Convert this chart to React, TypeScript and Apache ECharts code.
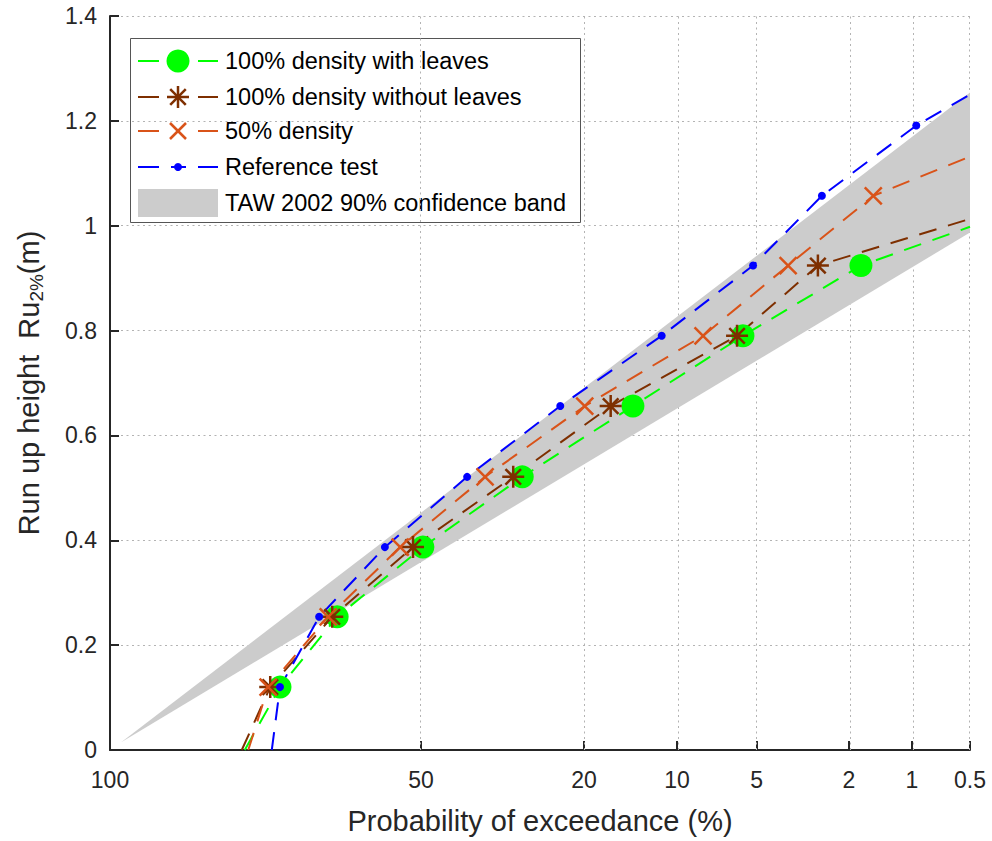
import React, { useEffect, useRef } from "react";
import * as echarts from "echarts";

// ---------- data ----------
const tickProbs = [100, 50, 20, 10, 5, 2, 1, 0.5];
const tickLabels = ["100", "50", "20", "10", "5", "2", "1", "0.5"];
const gridProbs = [50, 20, 10, 5, 2, 1, 0.5];
const runupLevels = [0.12, 0.254, 0.387, 0.521, 0.656, 0.79, 0.924, 1.057, 1.191];

// exceedance probability (%) of each run-up level
const withLeavesP = [81.3, 69.1, 49.6, 29.6, 14.1, 5.67, 1.76];
const withoutLeavesP = [83.2, 70.2, 51.8, 31.2, 16.6, 5.98, 2.76];
const halfDensityP = [83.6, 71.1, 54.7, 36.5, 19.9, 8.05, 3.71, 1.54];
const referenceP = [81.3, 73.1, 58.2, 40.1, 23.4, 11.3, 5.17, 2.65, 0.95];

// line continuations [P%, Ru] before first and after last marker
const withLeavesEnds = [[87.8, 0], [0.5, 0.998]];
const withoutLeavesEnds = [[88.3, 0], [0.5, 1.013]];
const halfDensityEnds = [[87.2, 0], [0.5, 1.132]];
const referenceEnds = [[82.9, 0], [0.5, 1.25]];

// TAW 2002 90% confidence band
const bandP = [99.91, 0.5];
const bandLow = [0.015, 0.987];
const bandHigh = [0.015, 1.254];

const legendNames = [
  "100% density with leaves",
  "100% density without leaves",
  "50% density",
  "Reference test",
  "TAW 2002 90% confidence band",
];

// ---------- helpers ----------
const tOf = (p: number) => Math.sqrt(Math.max(0, -Math.log(p / 100)));

const FONT = "Liberation Sans, Arial, sans-serif";
const GREEN = "#00ff00";
const BROWN = "#7e2f00";
const ORANGE = "#d95319";
const BLUE = "#0000ff";
const GRAY = "#cccccc";
const INK = "#262626";

const STAR = "path://M0,10L20,10M10,0L10,20M2.93,2.93L17.07,17.07M17.07,2.93L2.93,17.07";
const CROSS = "path://M0,0L20,20M20,0L0,20";

function buildData(ps: number[], ends: number[][]) {
  const pts: any[] = [];
  pts.push({ value: [tOf(ends[0][0]), ends[0][1]], symbol: "none" });
  ps.forEach((p, i) => pts.push({ value: [tOf(p), runupLevels[i]] }));
  pts.push({ value: [tOf(ends[1][0]), ends[1][1]], symbol: "none" });
  return pts;
}

const dash = [18, 12];

export default function App() {
  const ref = useRef<HTMLDivElement>(null);
  useEffect(() => {
    document.body.style.margin = "0";
    const chart = echarts.init(ref.current!, null, { renderer: "svg" });
    const tMax = tOf(0.5);
    const tickTs = tickProbs.map(tOf);

    const lineSeries = (name: string, data: any[], color: string, symbol: string, size: number, extra: any = {}) => ({
      name,
      type: "line",
      data,
      z: 3,
      symbol,
      symbolSize: size,
      lineStyle: { color, width: 2, type: dash },
      itemStyle: { color, borderColor: color, borderWidth: 2, ...extra },
      clip: true,
    });

    // legend (drawn as graphics)
    const rowY = [61, 97, 131, 167, 203];
    const lx1 = 138, lx2 = 159, lx3 = 198, lx4 = 218, mx = 178;
    const seg = (y: number, c: string) => [
      { type: "line", shape: { x1: lx1, y1: y, x2: lx2, y2: y }, style: { stroke: c, lineWidth: 2 } },
      { type: "line", shape: { x1: lx3, y1: y, x2: lx4, y2: y }, style: { stroke: c, lineWidth: 2 } },
    ];
    const legendEls: any[] = [
      { type: "rect", shape: { x: 130.5, y: 38.5, width: 450, height: 184 }, style: { fill: "#fff", stroke: "#555", lineWidth: 1 } },
      ...seg(rowY[0], GREEN),
      { type: "circle", shape: { cx: mx, cy: rowY[0], r: 11.5 }, style: { fill: GREEN } },
      ...seg(rowY[1], BROWN),
      ...[0, 45, 90, 135].map((a) => {
        const r = (a * Math.PI) / 180;
        return { type: "line", shape: { x1: mx - 11 * Math.cos(r), y1: rowY[1] - 11 * Math.sin(r), x2: mx + 11 * Math.cos(r), y2: rowY[1] + 11 * Math.sin(r) }, style: { stroke: BROWN, lineWidth: 2.5 } };
      }),
      ...seg(rowY[2], ORANGE),
      { type: "line", shape: { x1: mx - 8, y1: rowY[2] - 8, x2: mx + 8, y2: rowY[2] + 8 }, style: { stroke: ORANGE, lineWidth: 2.5 } },
      { type: "line", shape: { x1: mx + 8, y1: rowY[2] - 8, x2: mx - 8, y2: rowY[2] + 8 }, style: { stroke: ORANGE, lineWidth: 2.5 } },
      ...seg(rowY[3], BLUE),
      { type: "line", shape: { x1: 171, y1: rowY[3], x2: 186, y2: rowY[3] }, style: { stroke: BLUE, lineWidth: 2 } },
      { type: "circle", shape: { cx: mx, cy: rowY[3], r: 4 }, style: { fill: BLUE } },
      { type: "rect", shape: { x: 138, y: 189, width: 80, height: 28 }, style: { fill: GRAY } },
      ...legendNames.map((n, i) => ({
        type: "text",
        x: 225,
        y: rowY[i],
        style: { text: n, fill: "#000", font: `23.5px ${FONT}`, verticalAlign: "middle", align: "left" },
      })),
    ];

    const option: any = {
      animation: false,
      backgroundColor: "#fff",
      grid: { left: 110, right: 22, top: 16, bottom: 91, containLabel: false },
      xAxis: {
        type: "value",
        min: 0,
        max: tMax,
        name: "Probability of exceedance (%)",
        nameLocation: "middle",
        nameGap: 56,
        nameTextStyle: { fontFamily: FONT, fontSize: 29, color: INK },
        axisLine: { show: true, lineStyle: { color: INK, width: 2 } },
        axisTick: { show: true, inside: true, length: 9, customValues: tickTs, lineStyle: { color: INK, width: 2 } },
        axisLabel: {
          customValues: tickTs,
          margin: 18,
          fontFamily: FONT,
          fontSize: 23,
          color: INK,
          formatter: (v: number) => {
            let best = 0;
            tickTs.forEach((t, i) => {
              if (Math.abs(t - v) < Math.abs(tickTs[best] - v)) best = i;
            });
            return tickLabels[best];
          },
        },
        splitLine: { show: false },
      },
      yAxis: {
        type: "value",
        min: 0,
        max: 1.4,
        interval: 0.2,
        name: "{n|Run up height  Ru}{s|2%}{n|(m)}",
        nameLocation: "middle",
        nameGap: 64,
        nameTextStyle: {
          color: INK,
          rich: {
            n: { fontFamily: FONT, fontSize: 29, color: INK, lineHeight: 34, verticalAlign: "middle" },
            s: { fontFamily: FONT, fontSize: 19, color: INK, lineHeight: 19, verticalAlign: "bottom" },
          },
        },
        axisLine: { show: true, lineStyle: { color: INK, width: 2 } },
        axisTick: { show: true, inside: true, length: 9, lineStyle: { color: INK, width: 2 } },
        axisLabel: { margin: 13, fontFamily: FONT, fontSize: 23, color: INK },
        splitLine: { show: true, lineStyle: { color: "#b3b3b3", width: 1, type: [2, 3.5] } },
      },
      graphic: [{ type: "group", z: 100, children: legendEls }],
      series: [
        {
          name: "grid",
          type: "line",
          data: [],
          z: 1,
          markLine: {
            silent: true,
            z: 1,
            symbol: ["none", "none"],
            label: { show: false },
            lineStyle: { color: "#b3b3b3", width: 1, type: [2, 3.5] },
            data: gridProbs.map((p) => ({ xAxis: tOf(p) })),
          },
        },
        {
          name: legendNames[4],
          type: "custom",
          z: 2,
          data: bandP.map((p, i) => [tOf(p), bandLow[i], bandHigh[i]]),
          renderItem: (params: any, api: any) => {
            if (params.dataIndex !== 0) return null;
            const up = bandP.map((p, i) => api.coord([tOf(p), bandHigh[i]]));
            const lo = bandP.map((p, i) => api.coord([tOf(p), bandLow[i]])).reverse();
            return { type: "polygon", shape: { points: [...up, ...lo] }, style: { fill: GRAY }, silent: true };
          },
        },
        lineSeries(legendNames[0], buildData(withLeavesP, withLeavesEnds), GREEN, "circle", 23, { borderWidth: 0 }),
        lineSeries(legendNames[1], buildData(withoutLeavesP, withoutLeavesEnds), BROWN, STAR, 22, { borderWidth: 2.5 }),
        lineSeries(legendNames[2], buildData(halfDensityP, halfDensityEnds), ORANGE, CROSS, 17, { borderWidth: 2.5 }),
        lineSeries(legendNames[3], buildData(referenceP, referenceEnds), BLUE, "circle", 8, { borderWidth: 0 }),
      ],
    };
    chart.setOption(option);
    return () => chart.dispose();
  }, []);
  return <div ref={ref} style={{ width: 992, height: 841 }} />;
}
